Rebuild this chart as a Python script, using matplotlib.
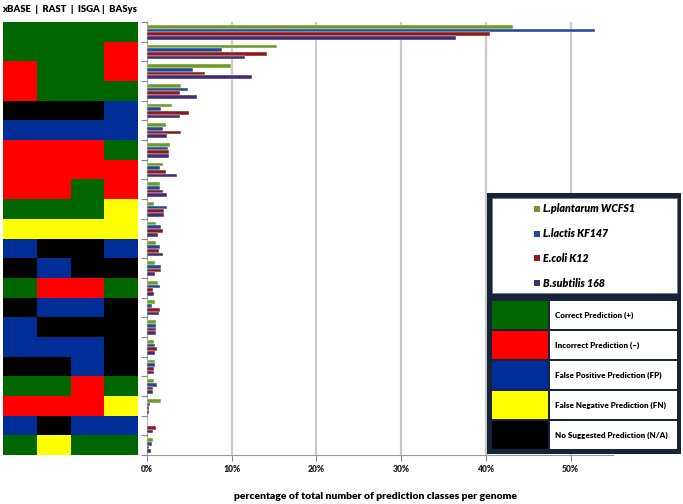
import matplotlib.pyplot as plt
import numpy as np
from matplotlib.colors import ListedColormap
from matplotlib.patches import Rectangle

plt.rcParams['font.family'] = ['Lato', 'DejaVu Sans']

# prediction pattern per row: xBASE, RAST, ISGA, BASys
# G = correct, R = incorrect, B = false positive, Y = false negative, K = no prediction
patterns = ["GGGG", "GGGR", "RGGR", "RGGG", "KKKB", "BBBB", "RRRG", "RRRR",
            "RRGR", "GGGY", "YYYY", "BKKB", "KBKK", "GRRG", "KBBK", "BKKK",
            "BBBK", "KKBK", "GGRG", "RRRY", "BKBB", "GYGG"]

# percentage of total number of prediction classes per genome
plantarum = [43.2, 15.3, 9.9, 3.96, 3.0, 2.27, 2.7, 1.92, 1.49, 0.78, 1.1,
             1.1, 0.98, 1.25, 0.94, 1.02, 0.82, 0.98, 0.82, 1.65, 0.08, 0.67]
lactis = [52.9, 8.8, 5.4, 4.8, 1.7, 1.84, 2.47, 1.53, 1.49, 2.35, 1.69,
          1.49, 1.6, 1.53, 0.55, 1.02, 0.98, 0.9, 1.14, 0.39, 0.03, 0.63]
ecoli = [40.5, 14.2, 6.9, 3.9, 4.9, 3.96, 2.63, 2.27, 1.84, 1.96, 1.84,
         1.41, 1.6, 0.75, 1.53, 1.02, 1.14, 0.82, 0.75, 0.2, 1.06, 0.24]
subtilis = [36.5, 11.6, 12.4, 5.9, 3.9, 2.4, 2.55, 3.53, 2.31, 2.04, 1.25,
            1.84, 0.98, 0.78, 1.37, 1.1, 0.9, 0.82, 0.75, 0.2, 0.67, 0.43]

series_names = ['L.plantarum WCFS1', 'L.lactis KF147', 'E.coli K12', 'B.subtilis 168']
series_colors = ['#6E9A2C', '#1F4A96', '#8E1B1B', '#432C74']

class_codes = ['G', 'R', 'B', 'Y', 'K']
class_names = ['Correct Prediction (+)', 'Incorrect Prediction (\u2013)',
               'False Positive Prediction (FP)', 'False Negative Prediction (FN)',
               'No Suggested Prediction (N/A)']
class_colors = ['#006600', '#FF0000', '#002E99', '#FFFF00', '#000000']

W, H = 683, 504
fig = plt.figure(figsize=(W / 100, H / 100), dpi=100)

n = len(patterns)

# left: colored prediction grid
axg = fig.add_axes([3 / W, 1 - 455 / H, 135 / W, 433 / H])
grid = np.array([[class_codes.index(c) for c in row] for row in patterns])
axg.pcolormesh(np.arange(5), np.arange(n + 1), grid,
               cmap=ListedColormap(class_colors), vmin=-0.5, vmax=4.5)
axg.set_xlim(0, 4)
axg.set_ylim(n, 0)
axg.axis('off')

# right: bar chart
ax = fig.add_axes([147 / W, 1 - 455 / H, 466 / W, 433 / H])
y = np.arange(n) + 0.5
bh = 0.1875
for k, (vals, col) in enumerate(zip([plantarum, lactis, ecoli, subtilis], series_colors)):
    ax.barh(y - 0.35 + bh * (k + 0.5), vals, height=bh, color=col,
            edgecolor='white', linewidth=0.3, zorder=3)
ax.set_xlim(0, 55)
ax.set_ylim(n, 0)
ax.set_xticks([0, 10, 20, 30, 40, 50])
ax.set_xticklabels(['0%', '10%', '20%', '30%', '40%', '50%'], fontsize=6.2, fontweight='heavy')
ax.set_yticks(np.arange(n + 1))
ax.set_yticklabels([])
ax.tick_params(axis='both', colors='#888888', length=4, width=0.8, labelcolor='#222222')
ax.grid(axis='x', color='#c8c8c8', linewidth=1.6, zorder=0)
for s in ['top', 'right']:
    ax.spines[s].set_visible(False)
for s in ['left', 'bottom']:
    ax.spines[s].set_color('#999999')
ax.set_xlabel('percentage of total number of prediction classes per genome',
              fontsize=7.5, fontweight='heavy')
ax.xaxis.set_label_coords((376 - 147) / 466, -(492 - 455) / 433)

fig.text(137 / W, 1 - 10 / H, 'xBASE  |  RAST  |  ISGA |  BASys', ha='right', va='center',
         fontsize=6.8, fontweight='heavy')

# legends drawn in an overlay in pixel space
ov = fig.add_axes([0, 0, 1, 1], zorder=10)
ov.set_xlim(0, W)
ov.set_ylim(H, 0)
ov.axis('off')

# series legend
ov.add_patch(Rectangle((487, 193), 194, 105, facecolor='#16243a', edgecolor='none'))
ov.add_patch(Rectangle((492, 198), 185, 95, facecolor='white', edgecolor='#777777', linewidth=0.6))
for i, (name, col) in enumerate(zip(series_names, series_colors)):
    yc = 209 + 24.7 * i
    ov.add_patch(Rectangle((534, yc - 3), 6, 6, facecolor=col, edgecolor='none'))
    ov.text(543, yc, name, ha='left', va='center', fontsize=7.7, fontweight='heavy',
            fontstyle='italic')

# prediction class legend
ov.add_patch(Rectangle((487, 297), 194, 157, facecolor='#16243a', edgecolor='none'))
for i, (name, col) in enumerate(zip(class_names, class_colors)):
    y0 = 301 + 30 * i
    ov.add_patch(Rectangle((492, y0), 56, 28, facecolor=col, edgecolor='none'))
    ov.add_patch(Rectangle((550, y0), 127, 28, facecolor='white', edgecolor='none'))
    ov.text(555, y0 + 14, name, ha='left', va='center', fontsize=5.8, fontweight='heavy')

fig.savefig('out.png', dpi=100)
